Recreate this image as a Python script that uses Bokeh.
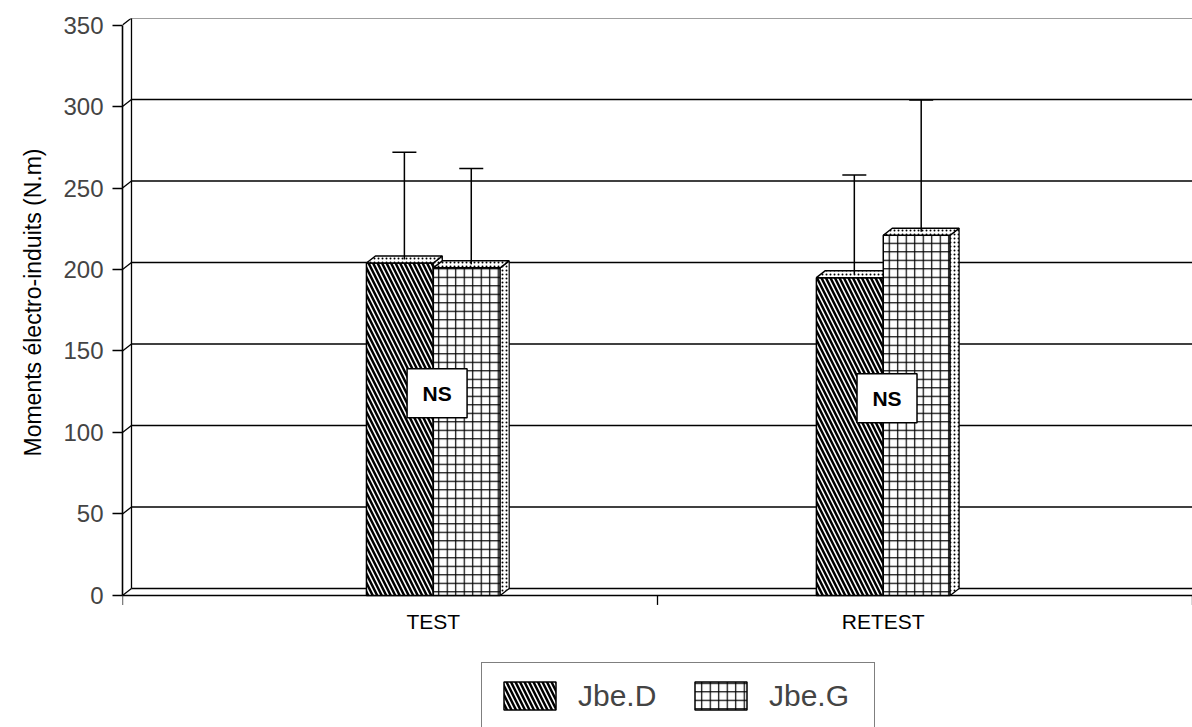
from bokeh.plotting import figure
from bokeh.models import (Range1d, FixedTicker, Whisker, TeeHead, ColumnDataSource,
                          Legend, LegendItem, Title)
from bokeh.core.properties import value
from bokeh.embed import file_html
from bokeh.resources import INLINE

# ---------------- data ----------------
categories = ["TEST", "RETEST"]
series = ["Jbe.D", "Jbe.G"]
jbe_d = [204, 195]          # mean moments (N.m)
jbe_g = [201, 221]
jbe_d_sd = [68, 63]         # upper error (SD)
jbe_g_sd = [61, 83]
ns_labels = ["NS", "NS"]
y_ticks = [0, 50, 100, 150, 200, 250, 300, 350]
x_bounds = [0, 1, 2]        # category boundaries (tick marks)
y_title = "Moments électro-induits (N.m)"

# ---------------- layout constants ----------------
group_centers = [0.581, 1.422]   # 3D perspective places groups off-centre
bar_w = 0.125
dx = 0.0168                     # depth offset (x, data units)
dy = 4.3                        # depth offset (y, data units)
tick_len = 5.8                  # x tick mark length (data units)
ns_y = [124, 121]
label_y = -16
FONT = "Liberation Sans"

p = figure(width=1192, height=727, x_range=Range1d(0, 2), y_range=Range1d(-81, 354),
           x_axis_location=None,
           output_backend="svg", toolbar_location=None,
           min_border_left=122, min_border_right=0, min_border_top=18, min_border_bottom=0)
p.outline_line_color = None
p.xgrid.visible = False
p.ygrid.visible = False
p.background_fill_color = "white"

# ---- 3D back wall: gridlines, left wall, tick connectors ----
p.segment(x0=[dx] * len(y_ticks), y0=[v + dy for v in y_ticks],
          x1=[2] * len(y_ticks), y1=[v + dy for v in y_ticks],
          line_color="black", line_width=1.6)
p.segment(x0=[dx], y0=[dy], x1=[dx], y1=[y_ticks[-1] + dy], line_color="black", line_width=1.3)
p.segment(x0=[0] * len(y_ticks), y0=y_ticks, x1=[dx] * len(y_ticks),
          y1=[v + dy for v in y_ticks], line_color="black", line_width=1.3)

# ---- x axis (floor front edge, tick marks, category labels) ----
p.segment(x0=[0], y0=[0], x1=[2], y1=[0], line_color="black", line_width=1.6)
p.segment(x0=x_bounds, y0=[0] * len(x_bounds), x1=x_bounds, y1=[-tick_len] * len(x_bounds),
          line_color="black", line_width=1.3)
p.text(x=group_centers, y=[label_y] * len(categories), text=categories,
       text_font=value(FONT), text_font_size="21px", text_align="center",
       text_baseline="middle", text_color="black")

# ---- bars ----
d_left = [c - bar_w for c in group_centers]
d_right = list(group_centers)
g_left = list(group_centers)
g_right = [c + bar_w for c in group_centers]

def top_face(lefts, rights, vals):
    xs = [[l, l + dx, r + dx, r] for l, r in zip(lefts, rights)]
    ys = [[v, v + dy, v + dy, v] for v in vals]
    return xs, ys

def side_face(rights, vals):
    xs = [[r, r + dx, r + dx, r] for r in rights]
    ys = [[0, dy, v + dy, v] for v in vals]
    return xs, ys

rd = p.quad(left=d_left, right=d_right, bottom=0, top=jbe_d,
            fill_color="white", line_color="black", line_width=1.5,
            hatch_pattern="left_diagonal_line", hatch_color="black",
            hatch_scale=9, hatch_weight=2.5)
sx, sy = side_face(d_right, jbe_d)
p.patches(sx, sy, fill_color="white", line_color="black", line_width=1.2,
          hatch_pattern="dot", hatch_color="black", hatch_scale=4, hatch_weight=1)
tx, ty = top_face(d_left, d_right, jbe_d)
p.patches(tx, ty, fill_color="white", line_color="black", line_width=1.5,
          hatch_pattern="dot", hatch_color="black", hatch_scale=4, hatch_weight=0.6)

rg = p.quad(left=g_left, right=g_right, bottom=0, top=jbe_g,
            fill_color="white", line_color="black", line_width=1.5,
            hatch_pattern="cross", hatch_color="black",
            hatch_scale=8.5, hatch_weight=1.2)
sx, sy = side_face(g_right, jbe_g)
p.patches(sx, sy, fill_color="white", line_color="black", line_width=1.2,
          hatch_pattern="dot", hatch_color="black", hatch_scale=4, hatch_weight=1)
tx, ty = top_face(g_left, g_right, jbe_g)
p.patches(tx, ty, fill_color="white", line_color="black", line_width=1.5,
          hatch_pattern="dot", hatch_color="black", hatch_scale=4, hatch_weight=0.6)

# ---- error bars ----
err_src = ColumnDataSource(dict(
    x=[(l + r) / 2 + dx / 2 for l, r in zip(d_left, d_right)] +
      [(l + r) / 2 + dx / 2 for l, r in zip(g_left, g_right)],
    lower=[v + dy / 2 for v in jbe_d] + [v + dy / 2 for v in jbe_g],
    upper=[v + s for v, s in zip(jbe_d, jbe_d_sd)] + [v + s for v, s in zip(jbe_g, jbe_g_sd)],
))
wh = Whisker(source=err_src, base="x", lower="lower", upper="upper", dimension="height",
             line_color="black", line_width=1.5, level="overlay",
             upper_head=TeeHead(size=24, line_color="black", line_width=1.5),
             lower_head=None)
p.add_layout(wh)

# ---- NS boxes ----
ns_x = [c + 0.007 for c in group_centers]
p.rect(x=ns_x, y=ns_y, width=60, height=49, width_units="screen", height_units="screen",
       fill_color="white", line_color="black", line_width=1.5)
p.text(x=ns_x, y=ns_y, text=ns_labels, text_font=value(FONT), text_font_style="bold",
       text_font_size="21px", text_align="center", text_baseline="middle", text_color="black")

# ---- y axis ----
yax = p.yaxis[0]
yax.ticker = FixedTicker(ticks=y_ticks)
yax.bounds = (0, 350)
yax.major_label_text_font = FONT
yax.major_label_text_font_size = "24px"
yax.major_label_standoff = 9
yax.major_tick_out = 10
yax.major_tick_in = 0
yax.minor_tick_line_color = None
yax.axis_line_width = 1.6
yax.major_tick_line_width = 1.3

# y axis title, positioned along the 0-350 span (not the whole frame)
p.add_layout(Title(text=y_title, align="left", offset=271, standoff=29,
                   text_font=FONT, text_font_style="normal", text_font_size="23px",
                   text_color="black"), "left")

# ---- legend ----
legend = Legend(items=[LegendItem(label=series[0], renderers=[rd]),
                       LegendItem(label=series[1], renderers=[rg])],
                location=(359, -2), orientation="horizontal",
                glyph_width=65, glyph_height=35, label_standoff=16, spacing=20,
                label_width=90, padding=15, margin=0,
                label_text_font=FONT, label_text_font_size="30px",
                border_line_color="black", border_line_width=1.5,
                background_fill_color="white", background_fill_alpha=1.0)
p.add_layout(legend)

open("out.html", "w").write(file_html(p, INLINE))
